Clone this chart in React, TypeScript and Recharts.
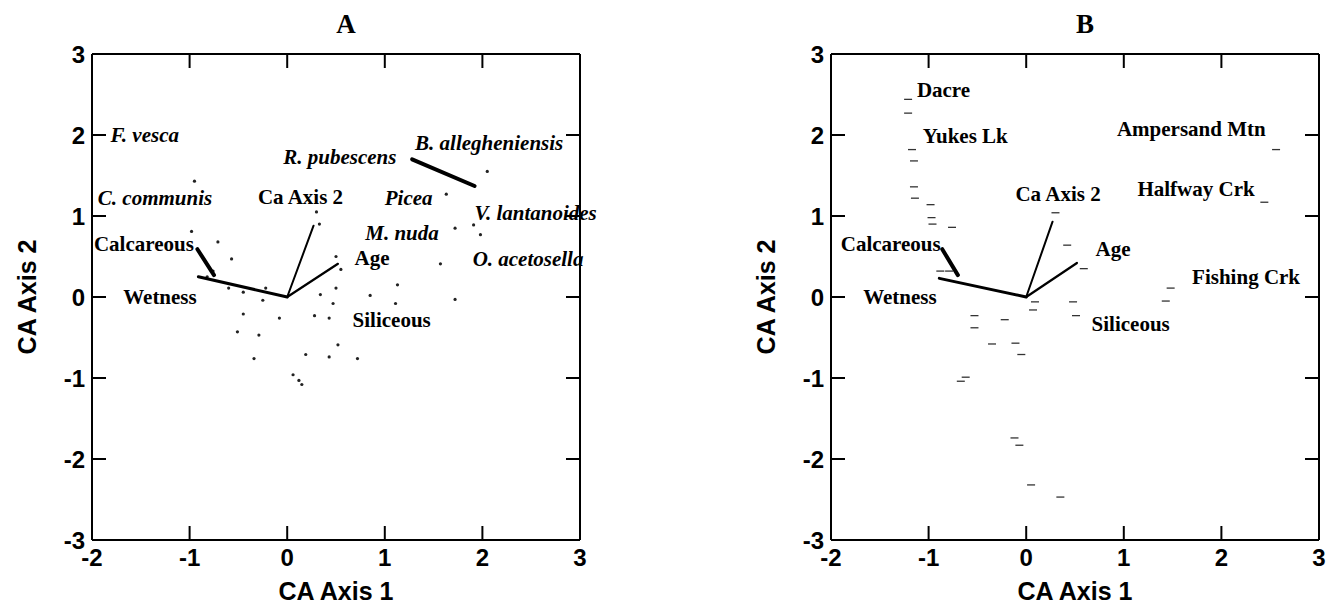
import React from 'react';
import { ScatterChart, Scatter, XAxis, YAxis } from 'recharts';

const xTicks = [-2, -1, 0, 1, 2, 3];
const yTicks = [-3, -2, -1, 0, 1, 2, 3];

// biplot vectors, panel A
const wetnessVecA = [{ x: 0, y: 0 }, { x: -0.91, y: 0.25 }];
const caAxis2VecA = [{ x: 0, y: 0 }, { x: 0.27, y: 0.88 }];
const ageVecA = [{ x: 0, y: 0 }, { x: 0.52, y: 0.41 }];
const calcLeaderA = [{ x: -0.92, y: 0.59 }, { x: -0.75, y: 0.27 }];
const pubescensLeaderA = [{ x: 1.28, y: 1.7 }, { x: 1.92, y: 1.37 }];

// biplot vectors, panel B
const wetnessVecB = [{ x: 0, y: 0 }, { x: -0.89, y: 0.23 }];
const caAxis2VecB = [{ x: 0, y: 0 }, { x: 0.27, y: 0.93 }];
const ageVecB = [{ x: 0, y: 0 }, { x: 0.52, y: 0.42 }];
const calcLeaderB = [{ x: -0.86, y: 0.59 }, { x: -0.7, y: 0.27 }];

const envLabelsA = [
  { x: -1.98, y: 0.65, name: 'Calcareous' },
  { x: -1.68, y: 0.0, name: 'Wetness' },
  { x: -0.3, y: 1.24, name: 'Ca Axis 2' },
  { x: 0.69, y: 0.48, name: 'Age' },
  { x: 0.67, y: -0.29, name: 'Siliceous' },
];

const speciesLabelsA = [
  { x: -1.81, y: 2.0, name: 'F. vesca' },
  { x: -1.94, y: 1.22, name: 'C. communis' },
  { x: -0.04, y: 1.73, name: 'R. pubescens' },
  { x: 1.31, y: 1.9, name: 'B. allegheniensis' },
  { x: 1.0, y: 1.22, name: 'Picea' },
  { x: 1.92, y: 1.04, name: 'V. lantanoides' },
  { x: 0.8, y: 0.79, name: 'M. nuda' },
  { x: 1.9, y: 0.47, name: 'O. acetosella' },
];

const envLabelsB = [
  { x: -1.9, y: 0.66, name: 'Calcareous' },
  { x: -1.67, y: 0.0, name: 'Wetness' },
  { x: -0.11, y: 1.27, name: 'Ca Axis 2' },
  { x: 0.71, y: 0.59, name: 'Age' },
  { x: 0.67, y: -0.33, name: 'Siliceous' },
];

const siteLabelsB = [
  { x: -1.12, y: 2.55, name: 'Dacre' },
  { x: -1.06, y: 1.99, name: 'Yukes Lk' },
  { x: 0.93, y: 2.07, name: 'Ampersand Mtn' },
  { x: 1.14, y: 1.33, name: 'Halfway Crk' },
  { x: 1.7, y: 0.25, name: 'Fishing Crk' },
];

// species scores (panel A)
const pointsA = [
  { x: -0.95, y: 1.43 }, { x: -0.98, y: 0.81 }, { x: -0.71, y: 0.68 }, { x: -0.57, y: 0.47 },
  { x: 2.05, y: 1.55 }, { x: 1.63, y: 1.27 }, { x: 1.72, y: 0.85 }, { x: 1.91, y: 0.89 },
  { x: 1.98, y: 0.77 }, { x: 1.57, y: 0.41 }, { x: 1.13, y: 0.15 }, { x: 1.11, y: -0.08 },
  { x: 1.72, y: -0.03 }, { x: 0.85, y: 0.02 }, { x: 0.34, y: 0.03 }, { x: 0.5, y: 0.11 },
  { x: 0.47, y: -0.08 }, { x: 0.28, y: -0.23 }, { x: 0.43, y: -0.26 }, { x: -0.22, y: 0.11 },
  { x: -0.25, y: -0.04 }, { x: -0.45, y: -0.21 }, { x: -0.51, y: -0.43 }, { x: -0.29, y: -0.47 },
  { x: -0.08, y: -0.26 }, { x: -0.34, y: -0.76 }, { x: 0.19, y: -0.71 }, { x: 0.43, y: -0.74 },
  { x: 0.52, y: -0.59 }, { x: 0.72, y: -0.76 }, { x: 0.12, y: -1.03 }, { x: 0.15, y: -1.08 },
  { x: 0.06, y: -0.96 }, { x: -0.82, y: 0.25 }, { x: -0.6, y: 0.11 }, { x: -0.45, y: 0.06 },
  { x: -0.76, y: 0.32 }, { x: 0.3, y: 1.05 }, { x: 0.33, y: 0.9 }, { x: 0.5, y: 0.5 },
  { x: 0.55, y: 0.34 },
];

// site scores (panel B)
const pointsB = [
  { x: -1.21, y: 2.44 }, { x: -1.21, y: 2.27 }, { x: -1.17, y: 1.82 }, { x: -1.15, y: 1.68 },
  { x: -1.15, y: 1.36 }, { x: -1.14, y: 1.22 }, { x: -0.98, y: 1.14 }, { x: -0.97, y: 0.98 },
  { x: -0.96, y: 0.9 }, { x: -0.76, y: 0.86 }, { x: -0.88, y: 0.32 }, { x: -0.79, y: 0.32 },
  { x: 0.42, y: 0.64 }, { x: 0.59, y: 0.35 }, { x: 0.48, y: -0.06 }, { x: 0.51, y: -0.23 },
  { x: 0.09, y: -0.06 }, { x: 0.07, y: -0.16 }, { x: -0.53, y: -0.23 }, { x: -0.53, y: -0.38 },
  { x: -0.22, y: -0.28 }, { x: -0.35, y: -0.58 }, { x: -0.11, y: -0.57 }, { x: -0.05, y: -0.71 },
  { x: -0.62, y: -0.99 }, { x: -0.67, y: -1.04 }, { x: -0.12, y: -1.74 }, { x: -0.07, y: -1.83 },
  { x: 0.05, y: -2.32 }, { x: 0.35, y: -2.47 }, { x: 1.48, y: 0.11 }, { x: 1.43, y: -0.05 },
  { x: 2.56, y: 1.82 }, { x: 2.44, y: 1.17 }, { x: 0.3, y: 1.04 },
];

const SANS = '"Liberation Sans", Arial, sans-serif';
const SERIF = '"Liberation Serif", "Times New Roman", serif';
const TICK_LEN = 14;

// plot box inside each 620x613 chart (set by the margins and axis sizes below)
const BOX = { left: 92, top: 54, right: 580, bottom: 540 };

const NoMark = () => <g />;

const DotMark = (props: any) => <circle cx={props.cx} cy={props.cy} r={1.6} fill="#222" />;

const DashMark = (props: any) => (
  <line x1={props.cx - 4} x2={props.cx + 4} y1={props.cy} y2={props.cy} stroke="#333" strokeWidth={1.3} />
);

const makeTextMark = (italic: boolean) => (props: any) => (
  <text
    x={props.cx}
    y={props.cy}
    dominantBaseline="central"
    fontFamily={SERIF}
    fontWeight="bold"
    fontStyle={italic ? 'italic' : 'normal'}
    fontSize={21}
    fill="#000"
  >
    {props.payload.name}
  </text>
);

const PlainText = makeTextMark(false);
const ItalicText = makeTextMark(true);

// inward ticks drawn together with their labels
const tickFont = { fontFamily: SANS, fontWeight: 'bold' as const, fontSize: 24, fill: '#000' };

const LeftTick = ({ payload }: any) => {
  const c = payload.coordinate;
  return (
    <g>
      <line x1={BOX.left} x2={BOX.left + TICK_LEN} y1={c} y2={c} stroke="#000" strokeWidth={2} />
      <text x={BOX.left - 7} y={c} textAnchor="end" dominantBaseline="central" {...tickFont}>
        {payload.value}
      </text>
    </g>
  );
};

const BottomTick = ({ payload }: any) => {
  const c = payload.coordinate;
  return (
    <g>
      <line x1={c} x2={c} y1={BOX.bottom} y2={BOX.bottom - TICK_LEN} stroke="#000" strokeWidth={2} />
      <text x={c} y={BOX.bottom + 26} textAnchor="middle" {...tickFont}>
        {payload.value}
      </text>
    </g>
  );
};

const TopTick = ({ payload }: any) => (
  <line
    x1={payload.coordinate}
    x2={payload.coordinate}
    y1={BOX.top}
    y2={BOX.top + TICK_LEN}
    stroke="#000"
    strokeWidth={2}
  />
);

const RightTick = ({ payload }: any) => (
  <line
    x1={BOX.right}
    x2={BOX.right - TICK_LEN}
    y1={payload.coordinate}
    y2={payload.coordinate}
    stroke="#000"
    strokeWidth={2}
  />
);

interface Seg {
  data: { x: number; y: number }[];
  width: number;
}

interface PanelProps {
  title: string;
  segs: Seg[];
  points: { x: number; y: number }[];
  pointShape: any;
  envLabels: { x: number; y: number; name: string }[];
  otherLabels: { x: number; y: number; name: string }[];
  italic: boolean;
}

const Panel = ({ title, segs, points, pointShape, envLabels, otherLabels, italic }: PanelProps) => (
  <ScatterChart width={620} height={613} margin={{ top: 53, right: 39, bottom: 43, left: 0 }}>
    <XAxis
      type="number"
      dataKey="x"
      domain={[-2, 3]}
      ticks={xTicks}
      interval={0}
      height={30}
      tickLine={false}
      stroke="#000"
      strokeWidth={2}
      tick={BottomTick}
      label={{
        value: 'CA Axis 1',
        position: 'bottom',
        offset: 12,
        style: { fontFamily: SANS, fontWeight: 'bold', fontSize: 25, fill: '#000' },
      }}
    />
    <YAxis
      type="number"
      dataKey="y"
      domain={[-3, 3]}
      ticks={yTicks}
      interval={0}
      width={92}
      tickLine={false}
      stroke="#000"
      strokeWidth={2}
      tick={LeftTick}
      label={{
        value: 'CA Axis 2',
        angle: -90,
        position: 'insideLeft',
        offset: 27,
        style: { textAnchor: 'middle', fontFamily: SANS, fontWeight: 'bold', fontSize: 25, fill: '#000' },
      }}
    />
    <XAxis
      xAxisId="top"
      orientation="top"
      type="number"
      dataKey="x"
      domain={[-2, 3]}
      ticks={xTicks}
      interval={0}
      height={1}
      tickLine={false}
      tick={TopTick}
      stroke="#000"
      strokeWidth={2}
      label={{
        value: title,
        position: 'top',
        offset: 20,
        dx: 10,
        style: { fontFamily: SERIF, fontWeight: 'bold', fontSize: 27, fill: '#000' },
      }}
    />
    <YAxis
      yAxisId="right"
      orientation="right"
      type="number"
      dataKey="y"
      domain={[-3, 3]}
      ticks={yTicks}
      interval={0}
      width={1}
      tickLine={false}
      tick={RightTick}
      stroke="#000"
      strokeWidth={2}
    />
    {/* invisible series so the frame axes on top and right get drawn */}
    <Scatter xAxisId="top" yAxisId="right" data={points} shape={NoMark} isAnimationActive={false} />
    <Scatter data={points} shape={pointShape} isAnimationActive={false} />
    {segs.map((s, i) => (
      <Scatter
        key={i}
        data={s.data}
        shape={NoMark}
        line={{ stroke: '#000', strokeWidth: s.width, strokeLinecap: 'round' }}
        isAnimationActive={false}
      />
    ))}
    <Scatter data={envLabels} shape={PlainText} isAnimationActive={false} />
    <Scatter data={otherLabels} shape={italic ? ItalicText : PlainText} isAnimationActive={false} />
  </ScatterChart>
);

export default function App() {
  return (
    <div style={{ position: 'absolute', left: 0, top: 0, width: 1326, height: 613, background: '#fff' }}>
      <div style={{ position: 'absolute', left: 0, top: 0 }}>
        <Panel
          title="A"
          segs={[
            { data: wetnessVecA, width: 3 },
            { data: caAxis2VecA, width: 2 },
            { data: ageVecA, width: 2.2 },
            { data: calcLeaderA, width: 4 },
            { data: pubescensLeaderA, width: 4 },
          ]}
          points={pointsA}
          pointShape={DotMark}
          envLabels={envLabelsA}
          otherLabels={speciesLabelsA}
          italic
        />
      </div>
      <div style={{ position: 'absolute', left: 739, top: 0 }}>
        <Panel
          title="B"
          segs={[
            { data: wetnessVecB, width: 3 },
            { data: caAxis2VecB, width: 2 },
            { data: ageVecB, width: 2.2 },
            { data: calcLeaderB, width: 4 },
          ]}
          points={pointsB}
          pointShape={DashMark}
          envLabels={envLabelsB}
          otherLabels={siteLabelsB}
          italic={false}
        />
      </div>
    </div>
  );
}
